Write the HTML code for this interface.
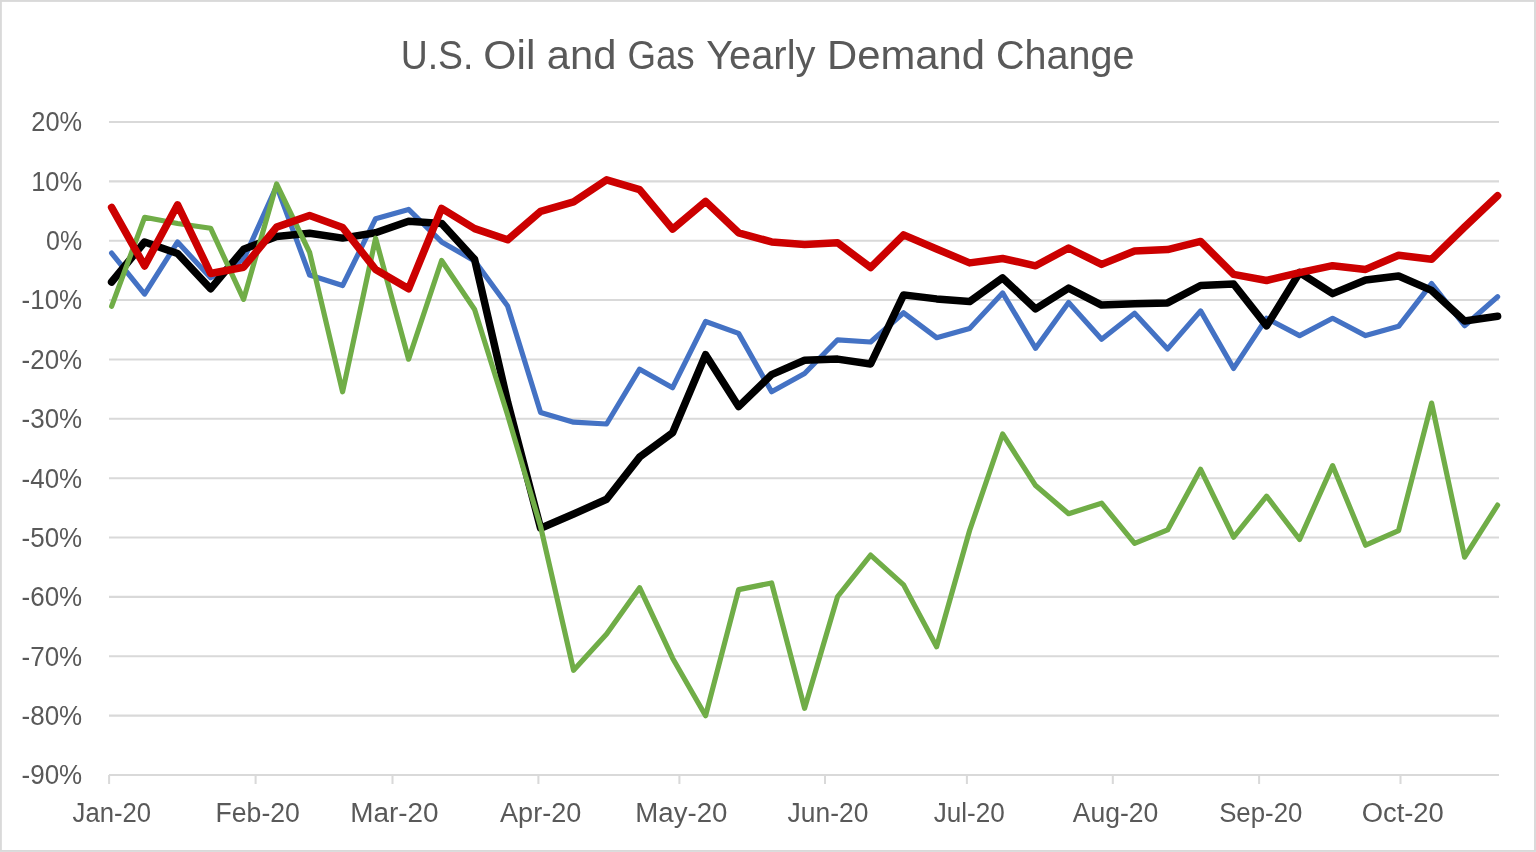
<!DOCTYPE html>
<html lang="en">
<head>
<meta charset="utf-8">
<title>U.S. Oil and Gas Yearly Demand Change</title>
<style>
html,body{margin:0;padding:0;background:#fff;}
body{width:1536px;height:852px;overflow:hidden;}
svg{display:block;}
text{font-family:"Liberation Sans",sans-serif;fill:#595959;}
.t{font-size:40px;}
.a{font-size:27px;}
.g{stroke:#D9D9D9;stroke-width:2.05;fill:none;}
.s{fill:none;stroke-linejoin:round;stroke-linecap:round;}
</style>
</head>
<body>
<svg width="1536" height="852" viewBox="0 0 1536 852">
<rect x="0" y="0" width="1536" height="852" fill="#ffffff"/>
<rect x="0.9" y="0.95" width="1534.1" height="850" fill="none" stroke="#D9D9D9" stroke-width="1.9"/>

<g class="t">
<text x="400.72" y="69.00" textLength="72.74" lengthAdjust="spacingAndGlyphs">U.S.</text>
<text x="483.29" y="69.00" textLength="52.10" lengthAdjust="spacingAndGlyphs">Oil</text>
<text x="546.88" y="69.00" textLength="69.54" lengthAdjust="spacingAndGlyphs">and</text>
<text x="627.40" y="69.00" textLength="67.26" lengthAdjust="spacingAndGlyphs">Gas</text>
<text x="706.16" y="69.00" textLength="109.26" lengthAdjust="spacingAndGlyphs">Yearly</text>
<text x="827.00" y="69.00" textLength="158.01" lengthAdjust="spacingAndGlyphs">Demand</text>
<text x="996.04" y="69.00" textLength="138.31" lengthAdjust="spacingAndGlyphs">Change</text>
</g>
<g class="g">
<line x1="109" y1="122.00" x2="1499" y2="122.00"/>
<line x1="109" y1="181.36" x2="1499" y2="181.36"/>
<line x1="109" y1="240.72" x2="1499" y2="240.72"/>
<line x1="109" y1="300.08" x2="1499" y2="300.08"/>
<line x1="109" y1="359.44" x2="1499" y2="359.44"/>
<line x1="109" y1="418.80" x2="1499" y2="418.80"/>
<line x1="109" y1="478.16" x2="1499" y2="478.16"/>
<line x1="109" y1="537.52" x2="1499" y2="537.52"/>
<line x1="109" y1="596.88" x2="1499" y2="596.88"/>
<line x1="109" y1="656.24" x2="1499" y2="656.24"/>
<line x1="109" y1="715.60" x2="1499" y2="715.60"/>
<line x1="109" y1="775.00" x2="1499" y2="775.00"/>
<line x1="109.1" y1="775" x2="109.1" y2="784"/>
<line x1="255.6" y1="775" x2="255.6" y2="784"/>
<line x1="392.5" y1="775" x2="392.5" y2="784"/>
<line x1="538.4" y1="775" x2="538.4" y2="784"/>
<line x1="679.4" y1="775" x2="679.4" y2="784"/>
<line x1="825" y1="775" x2="825" y2="784"/>
<line x1="966.9" y1="775" x2="966.9" y2="784"/>
<line x1="1112.8" y1="775" x2="1112.8" y2="784"/>
<line x1="1259.1" y1="775" x2="1259.1" y2="784"/>
<line x1="1400.5" y1="775" x2="1400.5" y2="784"/>
</g>
<g class="a">
<text x="31.34" y="131.40" textLength="50.79" lengthAdjust="spacingAndGlyphs">20%</text>
<text x="31.16" y="190.76" textLength="51.05" lengthAdjust="spacingAndGlyphs">10%</text>
<text x="46.12" y="250.12" textLength="36.04" lengthAdjust="spacingAndGlyphs">0%</text>
<text x="21.54" y="309.48" textLength="60.64" lengthAdjust="spacingAndGlyphs">-10%</text>
<text x="21.54" y="368.84" textLength="60.64" lengthAdjust="spacingAndGlyphs">-20%</text>
<text x="21.54" y="428.20" textLength="60.64" lengthAdjust="spacingAndGlyphs">-30%</text>
<text x="21.54" y="487.56" textLength="60.64" lengthAdjust="spacingAndGlyphs">-40%</text>
<text x="21.54" y="546.92" textLength="60.64" lengthAdjust="spacingAndGlyphs">-50%</text>
<text x="21.54" y="606.28" textLength="60.64" lengthAdjust="spacingAndGlyphs">-60%</text>
<text x="21.54" y="665.64" textLength="60.64" lengthAdjust="spacingAndGlyphs">-70%</text>
<text x="21.54" y="725.00" textLength="60.64" lengthAdjust="spacingAndGlyphs">-80%</text>
<text x="21.54" y="784.40" textLength="60.64" lengthAdjust="spacingAndGlyphs">-90%</text>
<text x="72.58" y="821.50" textLength="78.43" lengthAdjust="spacingAndGlyphs">Jan-20</text>
<text x="215.60" y="821.50" textLength="84.21" lengthAdjust="spacingAndGlyphs">Feb-20</text>
<text x="350.21" y="821.50" textLength="88.33" lengthAdjust="spacingAndGlyphs">Mar-20</text>
<text x="500.09" y="821.50" textLength="81.15" lengthAdjust="spacingAndGlyphs">Apr-20</text>
<text x="635.34" y="821.50" textLength="92.01" lengthAdjust="spacingAndGlyphs">May-20</text>
<text x="787.58" y="821.50" textLength="80.74" lengthAdjust="spacingAndGlyphs">Jun-20</text>
<text x="933.68" y="821.50" textLength="71.11" lengthAdjust="spacingAndGlyphs">Jul-20</text>
<text x="1072.68" y="821.50" textLength="85.64" lengthAdjust="spacingAndGlyphs">Aug-20</text>
<text x="1219.15" y="821.50" textLength="83.19" lengthAdjust="spacingAndGlyphs">Sep-20</text>
<text x="1361.68" y="821.50" textLength="82.10" lengthAdjust="spacingAndGlyphs">Oct-20</text>
</g>
<polyline class="s" stroke="#4472C4" stroke-width="5.2" points="111.6,253.1 144.6,294.1 177.6,242.0 210.6,277.8 243.6,259.5 276.6,186.1 309.6,275.0 342.6,285.6 375.6,218.7 408.6,209.4 441.6,241.9 474.6,260.9 507.6,306.0 540.6,412.4 573.6,422.2 606.6,424.0 639.6,369.2 672.6,387.7 705.6,321.5 738.6,333.4 771.6,391.8 804.6,373.5 837.6,339.8 870.6,342.0 903.6,312.8 936.6,337.7 969.6,328.4 1002.6,292.9 1035.6,348.3 1068.6,302.4 1101.6,339.3 1134.6,313.2 1167.6,348.9 1200.6,310.9 1233.6,368.4 1266.6,318.3 1299.6,335.6 1332.6,318.3 1365.6,335.6 1398.6,326.3 1431.6,283.6 1464.6,325.7 1497.6,296.7"/>
<polyline class="s" stroke="#000000" stroke-width="7.5" points="111.6,282.0 144.6,242.0 177.6,253.5 210.6,288.8 243.6,249.3 276.6,236.6 309.6,233.2 342.6,238.1 375.6,232.8 408.6,221.2 441.6,223.4 474.6,259.4 507.6,402.0 540.6,528.3 573.6,514.0 606.6,499.3 639.6,457.1 672.6,432.8 705.6,354.7 738.6,406.6 771.6,374.6 804.6,360.2 837.6,359.1 870.6,364.0 903.6,294.9 936.6,298.9 969.6,301.6 1002.6,277.9 1035.6,308.9 1068.6,288.1 1101.6,305.1 1134.6,303.7 1167.6,302.9 1200.6,285.5 1233.6,284.0 1266.6,325.9 1299.6,272.5 1332.6,293.6 1365.6,280.0 1398.6,276.0 1431.6,290.4 1464.6,321.0 1497.6,316.2"/>
<polyline class="s" stroke="#70AD47" stroke-width="5.2" points="111.6,306.3 144.6,217.3 177.6,223.5 210.6,228.2 243.6,299.4 276.6,184.0 309.6,252.4 342.6,391.8 375.6,238.2 408.6,359.2 441.6,260.5 474.6,309.5 507.6,415.0 540.6,526.6 573.6,670.3 606.6,633.9 639.6,587.7 672.6,658.2 705.6,715.7 738.6,589.6 771.6,583.0 804.6,708.3 837.6,596.5 870.6,555.1 903.6,584.9 936.6,646.8 969.6,530.5 1002.6,434.0 1035.6,485.6 1068.6,513.7 1101.6,503.2 1134.6,543.3 1167.6,529.9 1200.6,469.3 1233.6,537.2 1266.6,496.2 1299.6,539.4 1332.6,465.6 1365.6,545.2 1398.6,530.5 1431.6,403.1 1464.6,557.1 1497.6,505.1"/>
<polyline class="s" stroke="#CC0000" stroke-width="7.5" points="111.6,207.4 144.6,266.0 177.6,204.8 210.6,273.5 243.6,267.2 276.6,227.1 309.6,215.5 342.6,227.5 375.6,269.5 408.6,288.8 441.6,208.4 474.6,228.6 507.6,239.8 540.6,211.3 573.6,201.8 606.6,179.8 639.6,189.7 672.6,229.1 705.6,201.4 738.6,232.8 771.6,241.9 804.6,244.5 837.6,242.7 870.6,267.6 903.6,234.9 936.6,249.0 969.6,262.9 1002.6,258.5 1035.6,265.8 1068.6,248.0 1101.6,264.4 1134.6,251.0 1167.6,249.6 1200.6,241.4 1233.6,274.4 1266.6,280.5 1299.6,272.7 1332.6,265.7 1365.6,269.4 1398.6,255.2 1431.6,259.3 1464.6,227.0 1497.6,195.8"/>
</svg>
</body>
</html>
